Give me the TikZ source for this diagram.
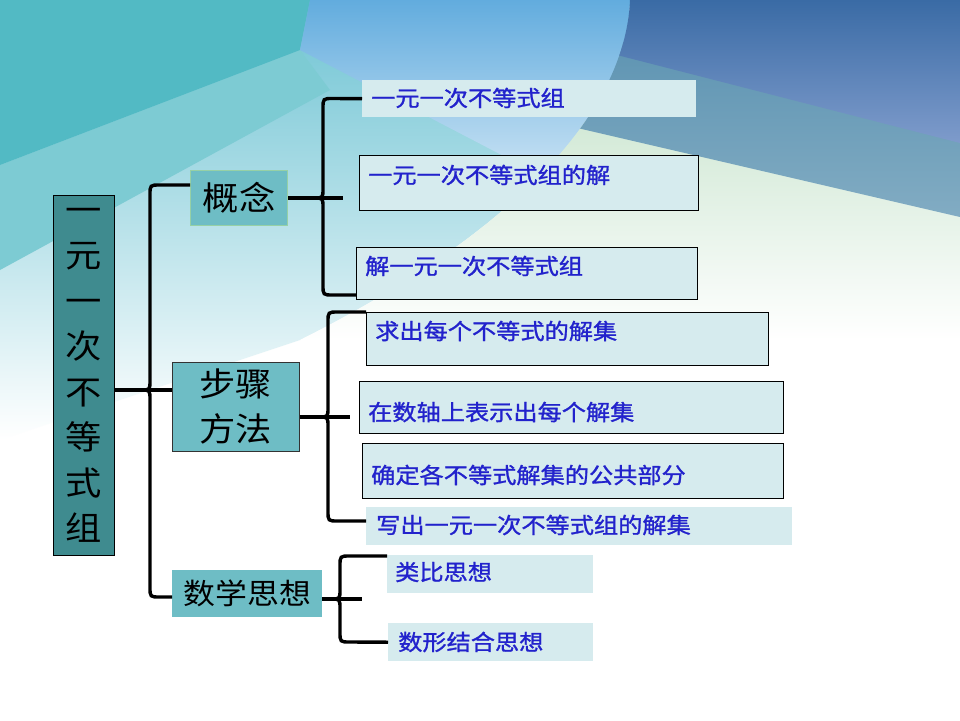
\documentclass[tikz,border=0pt]{standalone}
\usepackage{fontspec}
\newfontfamily\cjk[FakeStretch=1.1]{Noto Sans CJK SC}
\newfontfamily\leaffont[FakeStretch=1.1,FakeBold=1.2]{Noto Sans CJK SC}
\usetikzlibrary{positioning,calc}

\definecolor{bgsky}{HTML}{6EC3D3}
\definecolor{bgteal}{HTML}{52BAC4}
\definecolor{bgblue}{HTML}{62ACDE}
\definecolor{bgnavy}{HTML}{3A6BA5}
\definecolor{bglav}{HTML}{7E9BCB}
\definecolor{bgsteel}{HTML}{5890AF}
\definecolor{bggreen}{HTML}{D2E9D6}
\definecolor{mainfill}{HTML}{3F8B8F}
\definecolor{midfill}{HTML}{6EBDC5}
\definecolor{leaffill}{HTML}{D6EBEE}
\definecolor{leafblue}{HTML}{2222CC}

\begin{document}
\begin{tikzpicture}[x=1pt, y=-1pt,
    brace/.style={line width=3.4pt, black},
    leafbox/.style={anchor=north west, inner sep=0pt, fill=leaffill, draw=black, line width=0.9pt},
    leafbare/.style={anchor=north west, inner sep=0pt, fill=leaffill},
    leaftext/.style={anchor=west, inner sep=0pt, text=leafblue, font=\leaffont\fontsize{22}{26}\selectfont},
    midbox/.style={anchor=north west, inner sep=0pt, fill=midfill, align=center},
]
\useasboundingbox (0,0) rectangle (960,720);

% backdrop
\fill[white] (0,0) rectangle (960,720);
\shade[top color=bgsky, bottom color=white] (0,0) -- (630,0) .. controls (625,120) and (500,240) .. (300,340) -- (0,440) -- cycle;
\fill[bgteal!75!white] (0,165) -- (300,50) -- (330,90) -- (0,270) -- cycle;
\fill[bgteal] (0,0) -- (310,0) -- (300,50) -- (0,165) -- cycle;
\shade[top color=bgblue, bottom color=bgblue!35!white] (310,0) -- (630,0) .. controls (628,60) and (600,120) .. (540,175) -- (300,50) -- cycle;
\begin{scope}
  \clip (630,0) .. controls (625,120) and (500,240) .. (300,340) -- (960,340) -- (960,0) -- cycle;
  \shade[top color=bggreen, bottom color=white] (300,120) rectangle (960,340);
  \shade[top color=bgsteel, bottom color=bgsteel!75!white] (500,10) -- (960,130) -- (960,217) -- (500,110) -- cycle;
  \shade[top color=bgnavy, bottom color=bglav] (500,0) -- (960,0) -- (960,143) -- (500,25) -- cycle;
\end{scope}

% main box and first level
\node[anchor=north west, inner sep=0pt, fill=mainfill, draw=black, line width=0.9pt,
      minimum width=61pt, minimum height=360pt, align=center,
      font=\cjk\fontsize{33}{45.5}\selectfont] (g0) at (53,195)
      {一\\元\\一\\次\\不\\等\\式\\组};
\node[midbox, draw={rgb,255:red,150;green,208;blue,165}, line width=1pt,
      minimum width=97pt, minimum height=55pt, font=\cjk\fontsize{33}{40}\selectfont] (g1) at (190,170) {概念};
\node[midbox, draw=black!80, line width=0.8pt,
      minimum width=127pt, minimum height=89pt, font=\cjk\fontsize{33}{45}\selectfont] (g2) at (172,362) {步骤\\方法};
\node[midbox, minimum width=150pt, minimum height=47pt, font=\cjk\fontsize{29}{34}\selectfont] (g3) at (172,570) {数学思想};

% leaf boxes
\node[leafbare, minimum width=334pt, minimum height=37pt] (c1) at (362,80) {};
\node[leafbox, minimum width=339pt, minimum height=55pt] (c2) at (359,155) {};
\node[leafbox, minimum width=341pt, minimum height=52pt] (c3) at (356,247) {};
\node[leafbox, minimum width=402pt, minimum height=53pt] (c4) at (366,312) {};
\node[leafbox, minimum width=424pt, minimum height=52pt] (c5) at (359,381) {};
\node[leafbox, minimum width=421pt, minimum height=55pt] (c6) at (362,443) {};
\node[leafbare, minimum width=426pt, minimum height=38pt] (c7) at (366,507) {};
\node[leafbare, minimum width=206pt, minimum height=38pt] (c8) at (387,555) {};
\node[leafbare, minimum width=205pt, minimum height=38pt] (c9) at (388,623) {};

% leaf texts
\node[leaftext] (t1) at (371,98) {一元一次不等式组};
\node[leaftext] (t2) at (368,175) {一元一次不等式组的解};
\node[leaftext] (t3) at (365,266) {解一元一次不等式组};
\node[leaftext] (t4) at (375,331) {求出每个不等式的解集};
\node[leaftext] (t5) at (368,412) {在数轴上表示出每个解集};
\node[leaftext] (t6) at (371,475) {确定各不等式解集的公共部分};
\node[leaftext] (t7) at (376,525) {写出一元一次不等式组的解集};
\node[leaftext] (t8) at (395,572) {类比思想};
\node[leaftext] (t9) at (398,642) {数形结合思想};

% braces
\coordinate (k1) at (343,198);
\coordinate (k2) at (350,417);
\coordinate (k3) at (362,599);

\draw[brace] (g1.west |- 0,185) -- (160,185) .. controls (150,185) .. (150,195)
  -- (150,380) .. controls (150,390) .. (141,390) .. controls (150,390) .. (150,400)
  -- (150,587) .. controls (150,597) .. (160,597) -- (g3.west |- 0,597);
\draw[brace] (g0.east |- 0,390) -- (g2.west |- 0,390);

\draw[brace] (c1.west) -- (333,98.5) .. controls (323,98.5) .. (323,108.5)
  -- (323,188) .. controls (323,198) .. (314,198) .. controls (323,198) .. (323,208)
  -- (323,285) .. controls (323,295) .. (333,295) -- (c3.west |- 0,295);
\draw[brace] (g1.east) -- (k1);

\draw[brace] (c4.north west) -- (338,312) .. controls (328,312) .. (328,322)
  -- (328,407) .. controls (328,417) .. (319,417) .. controls (328,417) .. (328,427)
  -- (328,511) .. controls (328,521) .. (338,521) -- (c7.west |- 0,521);
\draw[brace] (g2.east |- 0,417) -- (k2);

\draw[brace] (c8.west |- 0,556) -- (350,556) .. controls (340,556) .. (340,566)
  -- (340,589) .. controls (340,599) .. (331,599) .. controls (340,599) .. (340,609)
  -- (340,632) .. controls (340,642) .. (350,642) -- (c9.west);
\draw[brace] (g3.east |- 0,599) -- (k3);
\end{tikzpicture}
\end{document}
